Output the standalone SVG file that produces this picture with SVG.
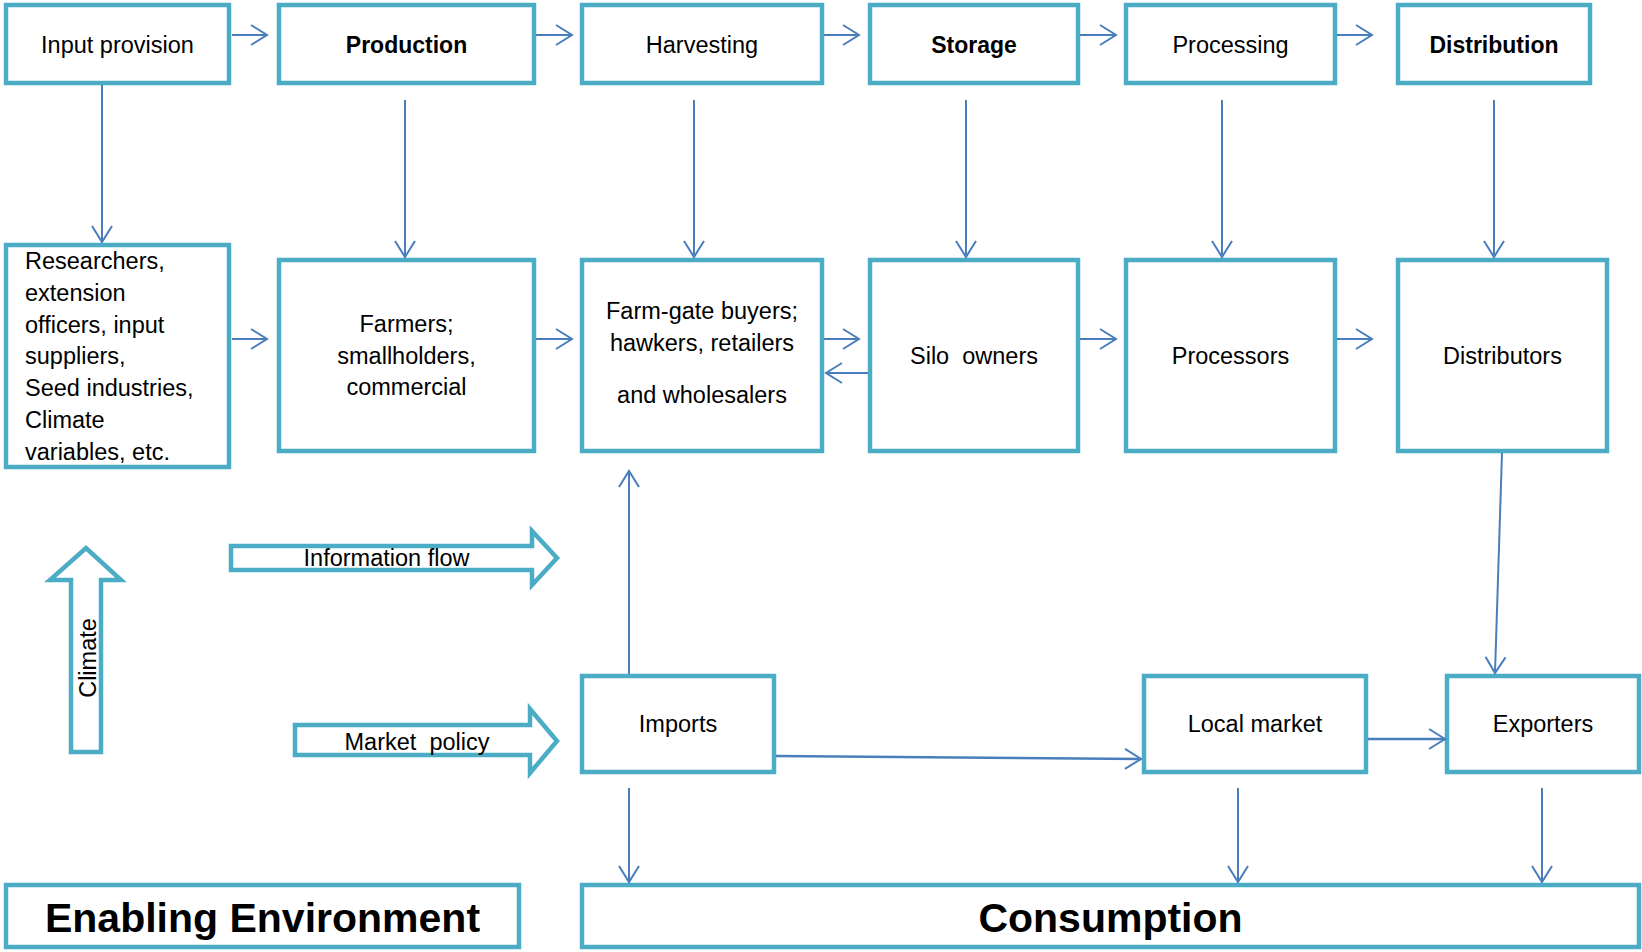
<svg xmlns="http://www.w3.org/2000/svg" width="1642" height="952" viewBox="0 0 1642 952">
<defs>
<style>
.box{fill:#fff;stroke:#4BACC6;stroke-width:4.5}
.big{fill:#fff;stroke:#4BACC6;stroke-width:4.5}
.t{font-family:"Liberation Sans",Arial,sans-serif;font-size:23.5px;fill:#000;text-anchor:middle}
.tl{font-family:"Liberation Sans",Arial,sans-serif;font-size:23.5px;fill:#000}
.b{font-weight:bold;font-size:23px}
.h{font-family:"Liberation Sans",Arial,sans-serif;font-size:41px;font-weight:bold;fill:#000;text-anchor:middle}
.c{fill:none;stroke:#4A7EBB;stroke-width:2;marker-end:url(#ah)}
.c2{fill:none;stroke:#4A7EBB;stroke-width:2.6;marker-end:url(#ah)}
</style>
<marker id="ah" markerUnits="userSpaceOnUse" markerWidth="24" markerHeight="24" refX="16" refY="10" orient="auto" overflow="visible">
<path d="M0,0 L16,10 L0,20" fill="none" stroke="#4A7EBB" stroke-width="2"/>
</marker>
</defs>
<rect width="1642" height="952" fill="#fff"/>

<g id="input-provision"><rect class="box" x="6" y="5" width="223" height="78"/><text class="t" x="117.5" y="53">Input provision</text></g>
<g id="production"><rect class="box" x="279" y="5" width="255" height="78"/><text class="t b" x="406.5" y="53">Production</text></g>
<g id="harvesting"><rect class="box" x="582" y="5" width="240" height="78"/><text class="t" x="702" y="53">Harvesting</text></g>
<g id="storage"><rect class="box" x="870" y="5" width="208" height="78"/><text class="t b" x="974" y="53">Storage</text></g>
<g id="processing"><rect class="box" x="1126" y="5" width="209" height="78"/><text class="t" x="1230.5" y="53">Processing</text></g>
<g id="distribution"><rect class="box" x="1398" y="5" width="192" height="78"/><text class="t b" x="1494" y="53">Distribution</text></g>

<g id="researchers"><rect class="box" x="6" y="245" width="223" height="222"/>
<text class="tl" x="25" y="269">Researchers,</text>
<text class="tl" x="25" y="301">extension</text>
<text class="tl" x="25" y="332.5">officers, input</text>
<text class="tl" x="25" y="364">suppliers,</text>
<text class="tl" x="25" y="396">Seed industries,</text>
<text class="tl" x="25" y="428">Climate</text>
<text class="tl" x="25" y="460">variables, etc.</text>
</g>
<g id="farmers"><rect class="box" x="279" y="260" width="255" height="191"/>
<text class="t" x="406.5" y="332">Farmers;</text>
<text class="t" x="406.5" y="363.5">smallholders,</text>
<text class="t" x="406.5" y="395">commercial</text>
</g>
<g id="farm-gate"><rect class="box" x="582" y="260" width="240" height="191"/>
<text class="t" x="702" y="319">Farm-gate buyers;</text>
<text class="t" x="702" y="350.5">hawkers, retailers</text>
<text class="t" x="702" y="403">and wholesalers</text>
</g>
<g id="silo-owners"><rect class="box" x="870" y="260" width="208" height="191"/><text class="t" x="974" y="364" xml:space="preserve">Silo  owners</text></g>
<g id="processors"><rect class="box" x="1126" y="260" width="209" height="191"/><text class="t" x="1230.5" y="364">Processors</text></g>
<g id="distributors"><rect class="box" x="1398" y="260" width="209" height="191"/><text class="t" x="1502.5" y="364">Distributors</text></g>

<g id="imports"><rect class="box" x="582" y="676" width="192" height="96"/><text class="t" x="678" y="732">Imports</text></g>
<g id="local-market"><rect class="box" x="1144" y="676" width="222" height="96"/><text class="t" x="1255" y="732">Local market</text></g>
<g id="exporters"><rect class="box" x="1447" y="676" width="192" height="96"/><text class="t" x="1543" y="732">Exporters</text></g>

<g id="enabling-environment"><rect class="big" x="6" y="885" width="513" height="62"/><text class="h" x="262.5" y="932">Enabling Environment</text></g>
<g id="consumption"><rect class="big" x="582" y="885" width="1057" height="62"/><text class="h" x="1110.5" y="932">Consumption</text></g>

<g id="climate-arrow"><path class="box" d="M71,752 L101,752 L101,580 L121,580 L86,548 L50,580 L71,580 Z"/><text class="t" transform="translate(96,658) rotate(-90)">Climate</text></g>
<g id="information-flow-arrow"><path class="box" d="M231,546 L532,546 L532,531 L557,558 L532,585 L532,570 L231,570 Z"/><text class="t" x="386.5" y="566">Information flow</text></g>
<g id="market-policy-arrow"><path class="box" d="M295,725 L530,725 L530,709 L557,741 L530,773 L530,755 L295,755 Z"/><text class="t" x="417" y="750" xml:space="preserve">Market  policy</text></g>

<g id="connectors">
<line class="c" x1="232" y1="35" x2="267" y2="35"/>
<line class="c" x1="536" y1="35" x2="572" y2="35"/>
<line class="c" x1="824" y1="35" x2="859" y2="35"/>
<line class="c" x1="1080" y1="35" x2="1116" y2="35"/>
<line class="c" x1="1337" y1="35" x2="1372" y2="35"/>

<line class="c" x1="102" y1="85" x2="102" y2="242"/>
<line class="c" x1="405" y1="100" x2="405" y2="257"/>
<line class="c" x1="694" y1="100" x2="694" y2="257"/>
<line class="c" x1="966" y1="100" x2="966" y2="257"/>
<line class="c" x1="1222" y1="100" x2="1222" y2="257"/>
<line class="c" x1="1494" y1="100" x2="1494" y2="257"/>

<line class="c" x1="232" y1="339" x2="267" y2="339"/>
<line class="c" x1="536" y1="339" x2="572" y2="339"/>
<line class="c" x1="824" y1="339" x2="859" y2="339"/>
<line class="c" x1="868" y1="373" x2="826" y2="373"/>
<line class="c" x1="1080" y1="339" x2="1116" y2="339"/>
<line class="c" x1="1337" y1="339" x2="1372" y2="339"/>

<line class="c" x1="1502" y1="453" x2="1495" y2="673"/>
<line class="c" x1="629" y1="674" x2="629" y2="471"/>
<line class="c2" x1="776" y1="756" x2="1141" y2="759"/>
<line class="c2" x1="1368" y1="739" x2="1445" y2="739"/>

<line class="c" x1="629" y1="788" x2="629" y2="882"/>
<line class="c" x1="1238" y1="788" x2="1238" y2="882"/>
<line class="c" x1="1542" y1="788" x2="1542" y2="882"/>
</g>
</svg>
